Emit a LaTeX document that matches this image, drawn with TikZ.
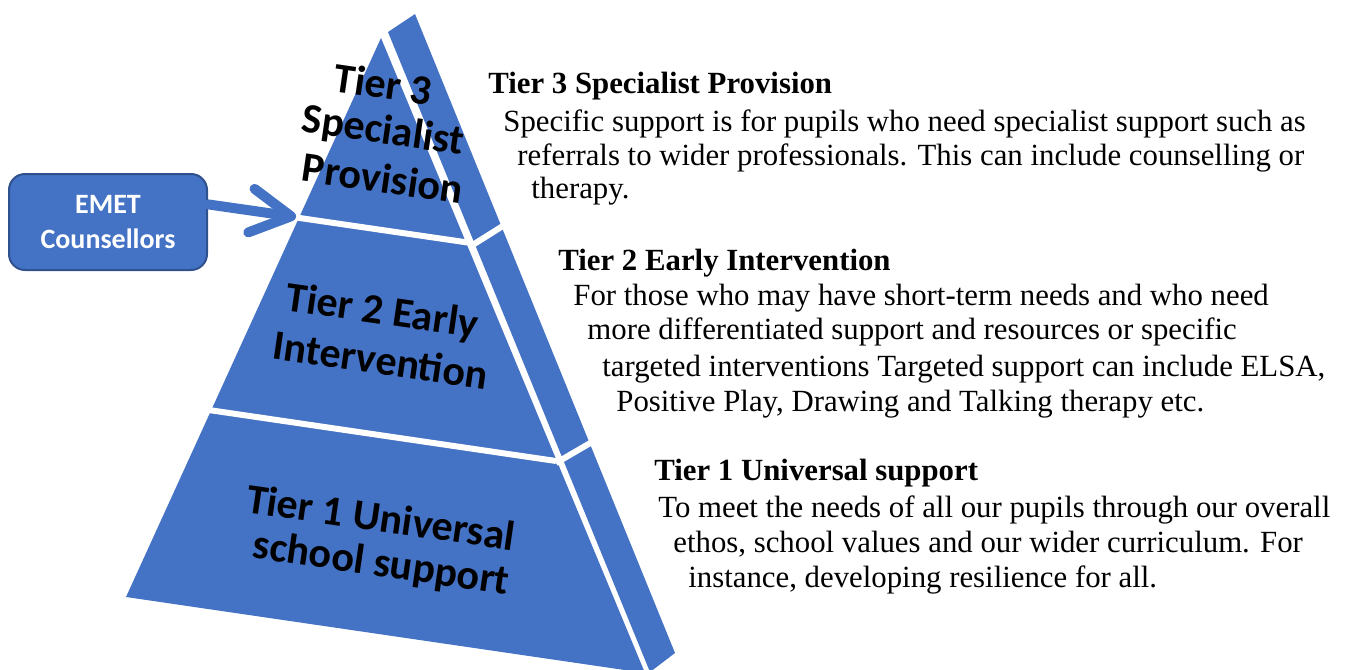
\documentclass[tikz,border=0pt]{standalone}
\usepackage{fontspec}
\setmainfont{Liberation Serif}
\newfontfamily\calibri{Carlito}
\usepackage{tikz}
\usetikzlibrary{arrows.meta}
\definecolor{tierblue}{HTML}{4472C4}
\definecolor{tieredge}{HTML}{2F528F}

\begin{document}
\begin{tikzpicture}[x=0.5pt,y=-0.5pt,
                    face/.style={fill=tierblue},
                    gap/.style={draw=white,line width=3pt},
                    tierlabel/.style={rotate=-8.25,text=black,inner sep=0pt,
                      font=\calibri\bfseries\fontsize{21}{23.5}\selectfont},
                    head/.style={anchor=base west,inner sep=0pt,
                      font=\bfseries\fontsize{15.4}{18}\selectfont},
                    body/.style={anchor=base west,inner sep=0pt,
                      font=\fontsize{15.4}{18}\selectfont},
                    counsel/.style={rounded corners=8pt,fill=tierblue,draw=tieredge,
                      line width=1pt,text=white,align=center,minimum width=99pt,
                      minimum height=48pt,font=\calibri\bfseries\fontsize{14}{17.5}\selectfont},
                    emetarrow/.style={draw=tierblue,line width=5pt,line cap=round,
                      -{Straight Barb[length=20pt,width=22pt,line cap=round,line join=round]}}]

                  \useasboundingbox (0,0) rectangle (1346,670);

                  % pyramid corners
                  \coordinate (apex) at (381,38);
                  \coordinate (baseL) at (126,597);
                  \coordinate (baseR) at (645,673);
                  \coordinate (sideT) at (388,32);
                  \coordinate (sideTR) at (415,14);
                  \coordinate (sideBR) at (675,653);
                  \coordinate (sideB) at (650,672);

                  \fill[face] (apex) -- (baseR) -- (baseL) -- cycle;
                  \fill[face] (sideT) -- (sideTR) -- (sideBR) -- (sideB) -- cycle;

                  % white gaps between the tiers
                  \draw[gap] (286,216) -- (471,243);
                  \draw[gap] (202,409) -- (556,461);
                  \draw[gap] (471,246) -- (506,224);
                  \draw[gap] (556,463) -- (592,442);

                  % labels on the pyramid, one node per line
                  \node[tierlabel] (tierthreeA) at (383,84) {Tier 3};
                  \node[tierlabel] (tierthreeB) at (383,132) {Specialist};
                  \node[tierlabel] (tierthreeC) at (383,178) {Provision};
                  \node[tierlabel] (tiertwoA) at (382,313) {Tier 2 Early};
                  \node[tierlabel] (tiertwoB) at (381,360) {Intervention};
                  \node[tierlabel] (tieroneA) at (381,517) {Tier 1 Universal};
                  \node[tierlabel] (tieroneB) at (381,565) {school support};

                  % Tier 3 text
                  \node[head] (t3h) at (488,93) {Tier 3 Specialist Provision};
                  \node[body] (t3a) at (503,131) {Specific support is for pupils who need specialist support such as};
                  \node[body] (t3b) at (517,165) {referrals to wider professionals. This can include counselling or};
                  \node[body] (t3c) at (531,198) {therapy.};

                  % Tier 2 text
                  \node[head] (t2h) at (558,270) {Tier 2 Early Intervention};
                  \node[body] (t2a) at (573,305) {For those who may have short-term needs and who need};
                  \node[body] (t2b) at (587,339) {more differentiated support and resources or specific};
                  \node[body] (t2c) at (602,376) {targeted interventions Targeted support can include ELSA,};
                  \node[body] (t2d) at (616,411) {Positive Play, Drawing and Talking therapy etc.};

                  % Tier 1 text
                  \node[head] (t1h) at (654,480) {Tier 1 Universal support};
                  \node[body] (t1a) at (658,517) {To meet the needs of all our pupils through our overall};
                  \node[body] (t1b) at (673,552) {ethos, school values and our wider curriculum. For};
                  \node[body] (t1c) at (688,587) {instance, developing resilience for all.};

                  \node[counsel] (emet) at (108,222) {EMET\\Counsellors};
                  \coordinate (tip) at (296,217);
                  \draw[emetarrow] (emet.10) -- (tip);
                \end{tikzpicture}
\end{document}
